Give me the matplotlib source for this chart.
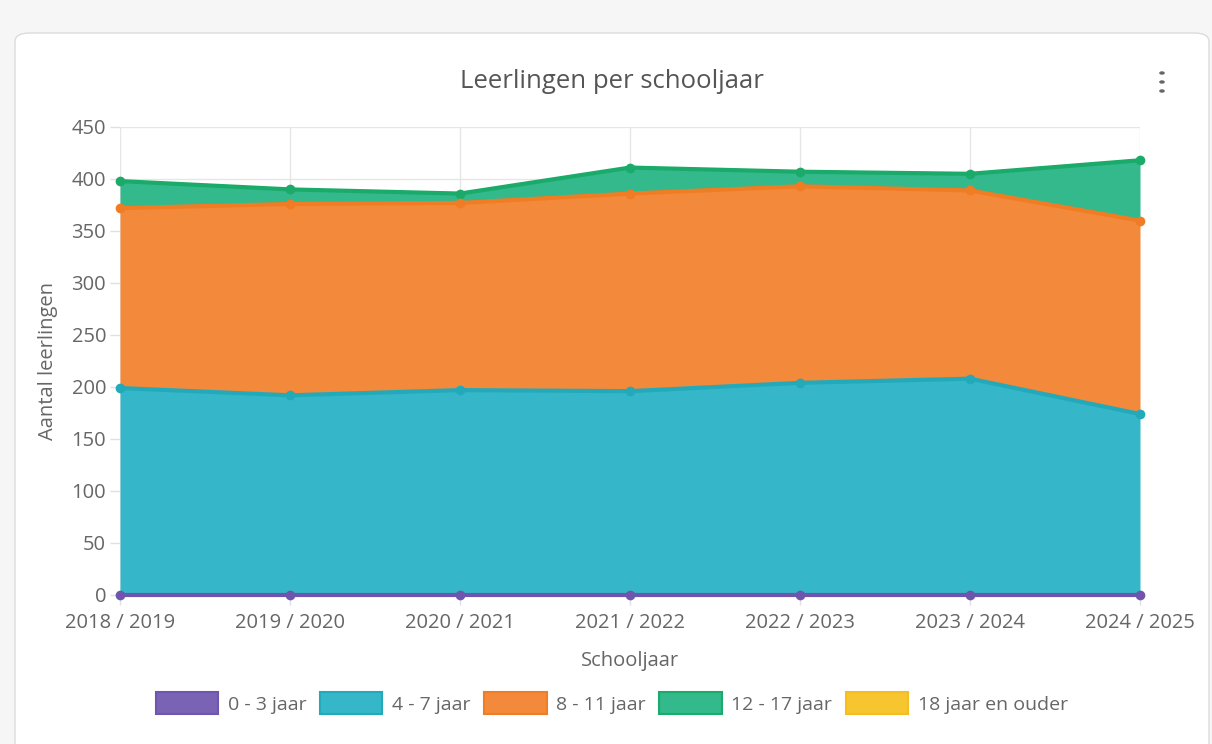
import numpy as np
import matplotlib
matplotlib.use("Agg")
import matplotlib.pyplot as plt
from matplotlib.patches import FancyBboxPatch, Patch, Circle

plt.rcParams['font.family'] = ['Open Sans', 'DejaVu Sans']

years = ["2018 / 2019", "2019 / 2020", "2020 / 2021", "2021 / 2022",
         "2022 / 2023", "2023 / 2024", "2024 / 2025"]
labels = ["0 - 3 jaar", "4 - 7 jaar", "8 - 11 jaar", "12 - 17 jaar", "18 jaar en ouder"]
v_0_3 = [0, 0, 0, 0, 0, 0, 0]
v_4_7 = [199, 192, 197, 196, 204, 208, 174]
v_8_11 = [173, 184, 180, 190, 189, 181, 186]
v_12_17 = [26, 14, 9, 25, 14, 16, 58]
v_18 = [0, 0, 0, 0, 0, 0, 0]

fill_colors = ["#7a62b4", "#35b7c9", "#f2893b", "#33b98c", "#f7c530"]
line_colors = ["#6f55ad", "#22aabb", "#f07c24", "#1aab6a", "#f5bd1f"]

W, H = 1212, 744
fig = plt.figure(figsize=(W / 100, H / 100), dpi=100)
fig.patch.set_facecolor("#f6f6f6")

card = FancyBboxPatch((15 / W, -0.05), (1209 - 15) / W, (1 - 33 / H) + 0.05,
                      boxstyle="round,pad=0,rounding_size=0.012",
                      transform=fig.transFigure, facecolor="white",
                      edgecolor="#dcdcdc", linewidth=1.0, zorder=-10)
fig.patches.append(card)

ax = fig.add_axes([120 / W, 1 - 595 / H, (1140 - 120) / W, (595 - 127) / H])
ax.set_zorder(5)
ax.set_facecolor("none")

series = [v_0_3, v_4_7, v_8_11, v_12_17, v_18]
x = np.arange(len(years))
base = np.zeros(len(years))
bases, tops = [], []
for vals in series:
    top = base + np.array(vals, dtype=float)
    bases.append(base)
    tops.append(top)
    base = top

# draw in reverse order so that the first dataset ends up on top (as in Chart.js)
n = len(series)
for i in reversed(range(n)):
    z = 2 + (n - i) * 2
    lw = 2.0 if i == n - 1 else 3
    ax.fill_between(x, bases[i], tops[i], color=fill_colors[i], linewidth=0, zorder=z)
    ax.plot(x, tops[i], color=line_colors[i], linewidth=lw, marker="o",
            markersize=6 if i == n - 1 else 7,
            markeredgewidth=0, zorder=z + 1, clip_on=False)

ax.set_xlim(0, len(years) - 1)
ax.set_ylim(0, 450)
ax.set_yticks(np.arange(0, 451, 50))
ax.set_xticks(x)
ax.set_xticklabels(years)
ax.grid(True, color="#e6e6e6", linewidth=1, zorder=1)
ax.set_axisbelow(True)
for s in ax.spines.values():
    s.set_visible(False)
ax.tick_params(axis="both", colors="#e0e0e0", labelcolor="#666666",
               labelsize=14.5, length=7, width=1)
ax.tick_params(axis="x", pad=6)
ax.tick_params(axis="y", pad=3)

ax.set_xlabel("Schooljaar", fontsize=14.5, color="#666666", labelpad=13)
ax.set_ylabel("Aantal leerlingen", fontsize=14.5, color="#666666", labelpad=10)

fig.text(612 / W, 1 - 82 / H, "Leerlingen per schooljaar", ha="center", va="center",
         fontsize=18.5, color="#555555")
for dy in (-9, 0, 9):
    fig.patches.append(Circle((1162 / W, 1 - (82 + dy) / H), 2.8 / W,
                              transform=fig.transFigure,
                              facecolor="#666666", edgecolor="none"))

handles = [Patch(facecolor=fc, edgecolor=lc, linewidth=1.5) for fc, lc in zip(fill_colors, line_colors)]
fig.legend(handles, labels, loc="center", bbox_to_anchor=(612 / W, 1 - 703 / H), ncol=5,
           frameon=False, fontsize=14, handlelength=3.2, handleheight=1.3,
           handletextpad=0.5, columnspacing=0.7, labelcolor="#666666")

fig.savefig("out.png", dpi=100, facecolor=fig.get_facecolor())
